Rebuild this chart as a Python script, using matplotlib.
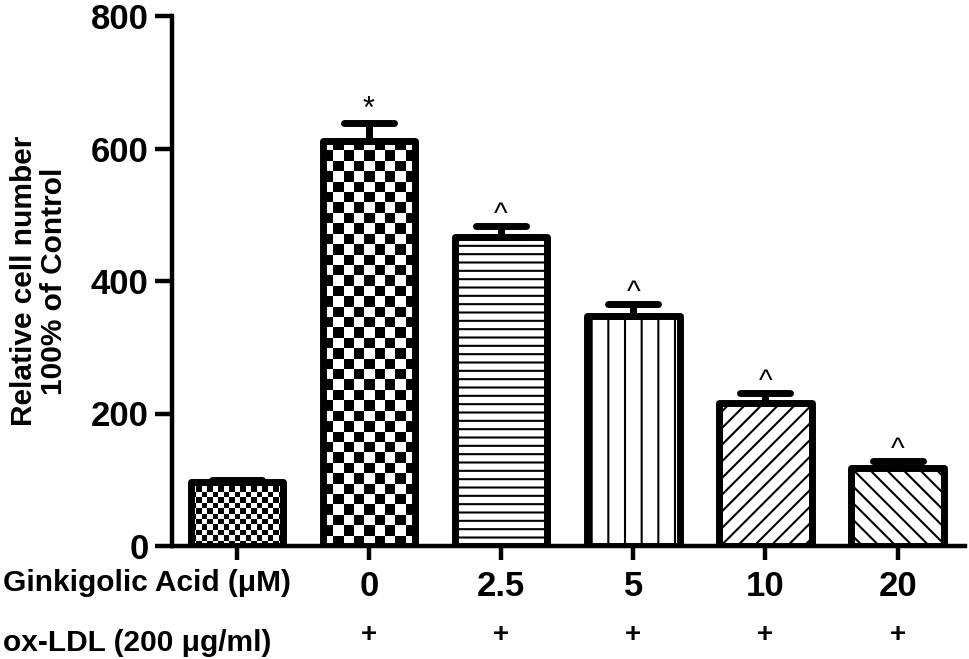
import numpy as np
import matplotlib
matplotlib.use("Agg")
import matplotlib.pyplot as plt
from matplotlib.markers import MarkerStyle
from matplotlib.transforms import blended_transform_factory

# data
groups = ["", "0", "2.5", "5", "10", "20"]
values = [97, 612, 466, 347, 216, 118]
errors = [3, 26, 17, 18, 15, 10]
oxldl = ["", "+", "+", "+", "+", "+"]
marks = ["", "*", "^", "^", "^", "^"]

# fill style per bar: checker size in px, or a hatch string
fills = [("checker", 5.5), ("checker", 10.5), ("hatch", "--"),
         ("hatch", "|"), ("hatch", "//"), ("hatch", "\\\\")]

plt.rcParams["font.family"] = ["Liberation Sans", "DejaVu Sans"]
plt.rcParams["font.weight"] = "bold"
plt.rcParams["hatch.linewidth"] = 1.5

W, H = 970, 659
fig = plt.figure(figsize=(W / 100, H / 100), dpi=100)
ax = fig.add_axes([172 / W, 1 - 546 / H, 793 / W, 530 / H])

x = np.arange(len(values))
ax.set_xlim(-0.49, 5.51)
ax.set_ylim(0, 800)

bars = ax.bar(x, values, width=0.7, color="white", edgecolor="black",
              linewidth=5, zorder=3)
for b, (kind, arg) in zip(bars, fills):
    b.set_joinstyle("round")
    if kind == "hatch":
        b.set_hatch(arg)
    else:
        # checkerboard texture, clipped to the bar
        b.set_facecolor("none")
        bb = b.get_window_extent()
        nx = max(1, int(round(bb.width / arg)))
        ny = max(1, int(round(bb.height / arg)))
        board = np.add.outer(np.arange(ny), np.arange(nx)) % 2
        x0 = b.get_x()
        im = ax.imshow(board, cmap="gray_r", origin="lower",
                       extent=(x0, x0 + b.get_width(), 0, b.get_height()),
                       interpolation="nearest", aspect="auto", zorder=2)
        im.set_clip_path(b)

eb = ax.errorbar(x, values, yerr=[np.zeros(len(errors)), errors], fmt="none",
                 ecolor="black", elinewidth=5, capsize=18, capthick=5, zorder=4)
for cl in eb[1]:
    cl.set_marker(MarkerStyle("_", capstyle="round"))

# significance marks above the error bars
for xi, v, e, m in zip(x, values, errors, marks):
    if m == "*":
        ax.annotate(m, (xi, v + e), xytext=(0, 10), textcoords="offset points",
                    ha="center", va="center", fontsize=22, fontweight="normal")
    elif m:
        ax.annotate(m, (xi, v + e), xytext=(0, 8), textcoords="offset points",
                    ha="center", va="center", fontsize=21, fontweight="normal")

ax.set_xlim(-0.49, 5.51)
ax.set_ylim(0, 800)

for s in ["top", "right"]:
    ax.spines[s].set_visible(False)
for s in ["left", "bottom"]:
    ax.spines[s].set_linewidth(3.2)

ax.set_yticks([0, 200, 400, 600, 800])
ax.tick_params(axis="y", length=12, width=3.2, pad=5, labelsize=25)
ax.set_xticks(x, groups)
ax.tick_params(axis="x", length=10, width=3.2, pad=7, labelsize=25)

ax.set_ylabel("Relative cell number\n100% of Control", fontsize=21.5,
              fontweight="bold", va="center", linespacing=1.1)
ax.yaxis.set_label_coords((39 - 172) / 793, 0.5)

fig.text(3 / W, 1 - 583 / H, "Ginkigolic Acid (μM)", ha="left", va="center",
         fontsize=21.5)
fig.text(3 / W, 1 - 643 / H, "ox-LDL (200 μg/ml)", ha="left", va="center",
         fontsize=21.5)
tr = blended_transform_factory(ax.transData, fig.transFigure)
for xi, s in zip(x, oxldl):
    if s:
        ax.text(xi, 1 - 635 / H, s, transform=tr, ha="center", va="center",
                fontsize=20, fontweight="bold")

fig.savefig("out.png", dpi=100)
